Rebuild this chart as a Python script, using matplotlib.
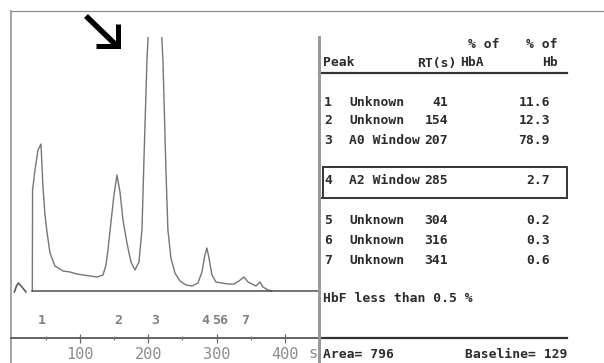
import matplotlib
matplotlib.use("Agg")
import matplotlib.pyplot as plt
from matplotlib import font_manager as fm

# ---------------- data ----------------
# chromatogram trace: retention time (s) and detector signal (arb. units)
trace_t = [30.2, 30.6, 34.1, 38.5, 42.9, 45.8, 48.8, 51.7, 56.1, 63.4, 75.1, 85.4, 95.6,
           104.4, 114.6, 124.9, 133.7, 138.1, 141.0, 145.4, 149.8, 154.2, 158.6, 163.0,
           168.8, 174.7, 180.5, 186.4, 190.8, 193.7, 198.1, 202.5, 209.8, 217.1, 221.5,
           225.9, 228.8, 233.2, 239.1, 246.4, 255.2, 264.0, 272.8, 278.6, 283.0, 285.9,
           288.9, 293.3, 299.1, 307.9, 316.7, 325.5, 332.8, 340.2, 346.0, 351.9, 357.7,
           363.6, 368.0, 375.3, 381.1]
trace_s = [0, 101, 121, 141, 147, 104, 76, 59, 38, 25, 20, 19, 17,
           16, 15, 14, 16, 26, 41, 69, 96, 116, 99, 71,
           48, 29, 21, 29, 61, 131, 231, 291, 371, 291, 231,
           121, 61, 33, 18, 10, 6, 5, 8, 19, 36, 43,
           33, 16, 9, 8, 7, 7, 10, 14, 9, 7, 5,
           9, 4, 1, 0]
# small blip at the very start of the run
start_t = [4.0, 7.0, 10.0, 15.0, 21.0]
start_s = [-1, 5, 8, 4, -1]
baseline_start = 30.2

# results table
peak_no = ["1", "2", "3", "4", "5", "6", "7"]
peak_name = ["Unknown", "Unknown", "A0 Window", "A2 Window", "Unknown", "Unknown", "Unknown"]
peak_rt = [41, 154, 207, 285, 304, 316, 341]
pct_hb = ["11.6", "12.3", "78.9", "2.7", "0.2", "0.3", "0.6"]
# where the peak numbers are printed under the trace (s)
peak_label_t = [44, 156, 210, 284, 299, 310, 342]
x_ticks = [100, 200, 300, 400]
x_minor = [50, 150, 250, 350]
footer_note = "HbF less than 0.5 %"
area_text = "Area= 796"
baseline_text = "Baseline= 129"

# ---------------- fonts ----------------
names = {f.name for f in fm.fontManager.ttflist}
if "Liberation Sans Narrow" in names:
    TFONT, TSIZE, LSIZE, PSIZE = "Liberation Sans Narrow", 10.8, 11.5, 11.0
else:
    TFONT, TSIZE, LSIZE, PSIZE = "DejaVu Sans Mono", 9.4, 11.0, 9.5

W, H = 604, 363
fig = plt.figure(figsize=(W / 100, H / 100), dpi=100)
fig.patch.set_facecolor("white")

# pixel-space overlay for frame, arrow and table
axd = fig.add_axes([0, 0, 1, 1])
axd.set_xlim(0, W)
axd.set_ylim(H, 0)
axd.axis("off")

PX = 0.72  # points per pixel
frame_c = "#8a8a8a"
axd.plot([11, W], [11, 11], color=frame_c, lw=1.2 * PX)
axd.plot([11, 11], [11, H], color=frame_c, lw=1.5 * PX)
# x-axis line continues under table
axd.plot([11, 567], [338, 338], color="#555555", lw=1.8 * PX)

# arrow
axd.plot([86, 116], [16, 45], color="black", lw=5.5 * PX, solid_capstyle="butt")
axd.plot([96, 118, 118], [45.5, 45.5, 24], color="black", lw=5 * PX,
         solid_joinstyle="miter", solid_capstyle="butt")

tc = "#2b2b2b"
tk = dict(family=[TFONT, "DejaVu Sans"], fontsize=TSIZE, weight="bold", color=tc, va="center")
# header
axd.text(500, 45, "% of", ha="right", **tk)
axd.text(557, 45, "% of", ha="right", **tk)
axd.text(323, 63, "Peak", ha="left", **tk)
axd.text(457, 63, "RT(s)", ha="right", **tk)
axd.text(484, 63, "HbA", ha="right", **tk)
axd.text(558, 63, "Hb", ha="right", **tk)
axd.plot([319, 567], [72.5, 72.5], color="#333333", lw=2.2 * PX)

row_y = [102, 121, 141, 181, 221, 241, 261]
for i in range(len(peak_no)):
    y = row_y[i]
    axd.text(324, y, peak_no[i], ha="left", **tk)
    axd.text(349, y, peak_name[i], ha="left", **tk)
    axd.text(448, y, str(peak_rt[i]), ha="right", **tk)
    axd.text(550, y, pct_hb[i], ha="right", **tk)

# highlight box around A2 row
axd.plot([323, 567, 567, 323, 323], [167, 167, 198, 198, 167], color="#3a3a3a", lw=2 * PX)
axd.plot([319, 567], [198, 198], color="#3a3a3a", lw=2 * PX)

axd.text(323, 299, footer_note, ha="left", **tk)
axd.plot([319, 567], [338, 338], color="#333333", lw=2.2 * PX)
axd.text(323, 354, area_text, ha="left", **tk)
axd.text(567, 354, baseline_text, ha="right", **tk)
axd.text(313, 354, "s", ha="center", va="center", family=[TFONT, "DejaVu Sans"],
         fontsize=LSIZE, color="#8c8c8c")
axd.plot([319, 319], [37, H], color="#9a9a9a", lw=3 * PX)

# ---------------- chromatogram ----------------
x_l, x_r, y_t, y_b = 11, 318, 37, 338
ax = fig.add_axes([x_l / W, 1 - y_b / H, (x_r - x_l) / W, (y_b - y_t) / H])
ax.patch.set_alpha(0)
for sp in ax.spines.values():
    sp.set_visible(False)
ax.set_xlim(-1.0, 448.6)
ax.set_ylim(-47, 254)

line_c = "#767676"
ax.plot(trace_t, trace_s, color=line_c, lw=1.4 * PX)
ax.plot(start_t, start_s, color="#555555", lw=1.6 * PX)
ax.plot([baseline_start, 448.6], [0, 0], color="#4a4a4a", lw=1.5 * PX)

ax.set_yticks([])
ax.set_xticks(x_ticks)
ax.set_xticklabels([str(v) for v in x_ticks], family=[TFONT, "DejaVu Sans"],
                   fontsize=LSIZE, color="#8c8c8c")
ax.set_xticks(x_minor, minor=True)
ax.tick_params(axis="x", which="major", direction="inout", length=9 * PX,
               width=1.2 * PX, color="#666666", pad=3.5)
ax.tick_params(axis="x", which="minor", direction="inout", length=4 * PX,
               width=1.2 * PX, color="#777777")
axd.set_zorder(0)
ax.set_zorder(1)

# peak number labels under baseline
for i in range(len(peak_no)):
    ax.text(peak_label_t[i], -30, peak_no[i], ha="center", va="center",
            family=[TFONT, "DejaVu Sans"], fontsize=PSIZE, weight="bold", color="#808080")

fig.savefig("out.png", dpi=100)
